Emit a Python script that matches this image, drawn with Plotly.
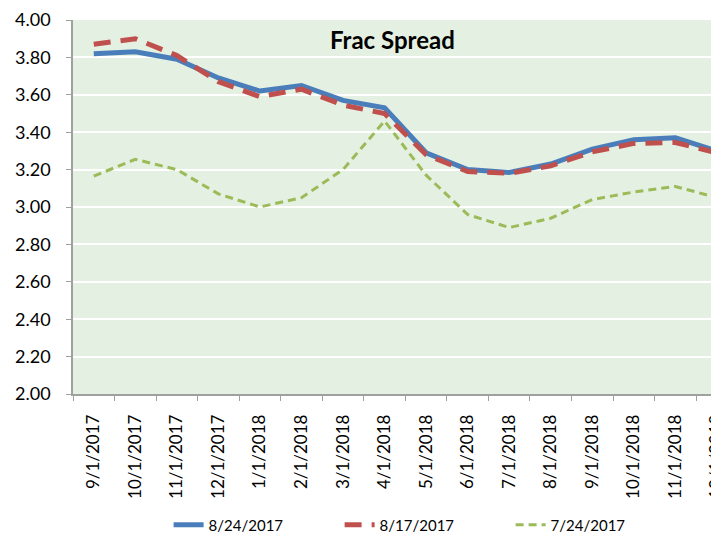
import plotly.graph_objects as go

categories = ["9/1/2017", "10/1/2017", "11/1/2017", "12/1/2017", "1/1/2018", "2/1/2018",
              "3/1/2018", "4/1/2018", "5/1/2018", "6/1/2018", "7/1/2018", "8/1/2018",
              "9/1/2018", "10/1/2018", "11/1/2018", "12/1/2018"]
s_0824 = [3.82, 3.83, 3.79, 3.69, 3.62, 3.65, 3.57, 3.53, 3.29, 3.20, 3.185, 3.23, 3.31, 3.36, 3.37, 3.30]
s_0817 = [3.87, 3.90, 3.81, 3.67, 3.59, 3.63, 3.545, 3.50, 3.28, 3.19, 3.18, 3.22, 3.295, 3.34, 3.345, 3.29]
s_0724 = [3.165, 3.255, 3.20, 3.07, 3.00, 3.05, 3.20, 3.46, 3.17, 2.96, 2.89, 2.94, 3.04, 3.08, 3.11, 3.05]
y_ticks = [2.0, 2.2, 2.4, 2.6, 2.8, 3.0, 3.2, 3.4, 3.6, 3.8, 4.0]

FONT = "Lato"

fig = go.Figure()
fig.add_trace(go.Scatter(x=categories, y=s_0824, name="8/24/2017", mode="lines",
                         line=dict(color="#4A7EBB", width=5)))
fig.add_trace(go.Scatter(x=categories, y=s_0817, name="8/17/2017", mode="lines",
                         line=dict(color="#C0504D", width=5, dash="17px,10px")))
fig.add_trace(go.Scatter(x=categories, y=s_0724, name="7/24/2017", mode="lines",
                         line=dict(color="#9BBB59", width=3, dash="8px,5px")))

fig.add_annotation(text="<b>Frac Spread</b>", xref="paper", yref="paper",
                   x=0.494, y=0.947, xanchor="center", yanchor="middle",
                   showarrow=False, font=dict(family=FONT, size=24, color="#000000"))

# page body has an 8px default margin, so the figure is sized/offset to compensate
fig.update_layout(
    width=711, height=533,
    margin=dict(l=65, r=0, t=12, b=147, autoexpand=False),
    paper_bgcolor="#FFFFFF",
    plot_bgcolor="#E4F0E1",
    font=dict(family=FONT, size=17, color="#000000"),
    showlegend=True,
    legend=dict(orientation="h", x=0.148, xanchor="left", y=-0.35, yanchor="middle",
                font=dict(family=FONT, size=15, color="#000000"),
                entrywidth=126, entrywidthmode="pixels", bgcolor="rgba(0,0,0,0)"),
)
fig.update_xaxes(
    type="category", range=[-0.5, 15.05], automargin=False,
    tickangle=-90, tickson="boundaries", ticks="outside", ticklen=5, tickcolor="#A0A0A0",
    showline=True, linecolor="#A0A0A0", linewidth=1.5, showgrid=False,
    ticklabelstandoff=12,
    tickfont=dict(family=FONT, size=17),
)
fig.update_yaxes(
    range=[2.0, 4.0], tickvals=y_ticks, tickformat=".2f", automargin=False,
    ticks="outside", ticklen=5, tickcolor="#A0A0A0",
    showline=True, linecolor="#A0A0A0", linewidth=1.5,
    showgrid=True, gridcolor="#FFFFFF", gridwidth=2, zeroline=False,
    ticklabelstandoff=12,
    tickfont=dict(family=FONT, size=18),
)

fig.write_html("out.html")
